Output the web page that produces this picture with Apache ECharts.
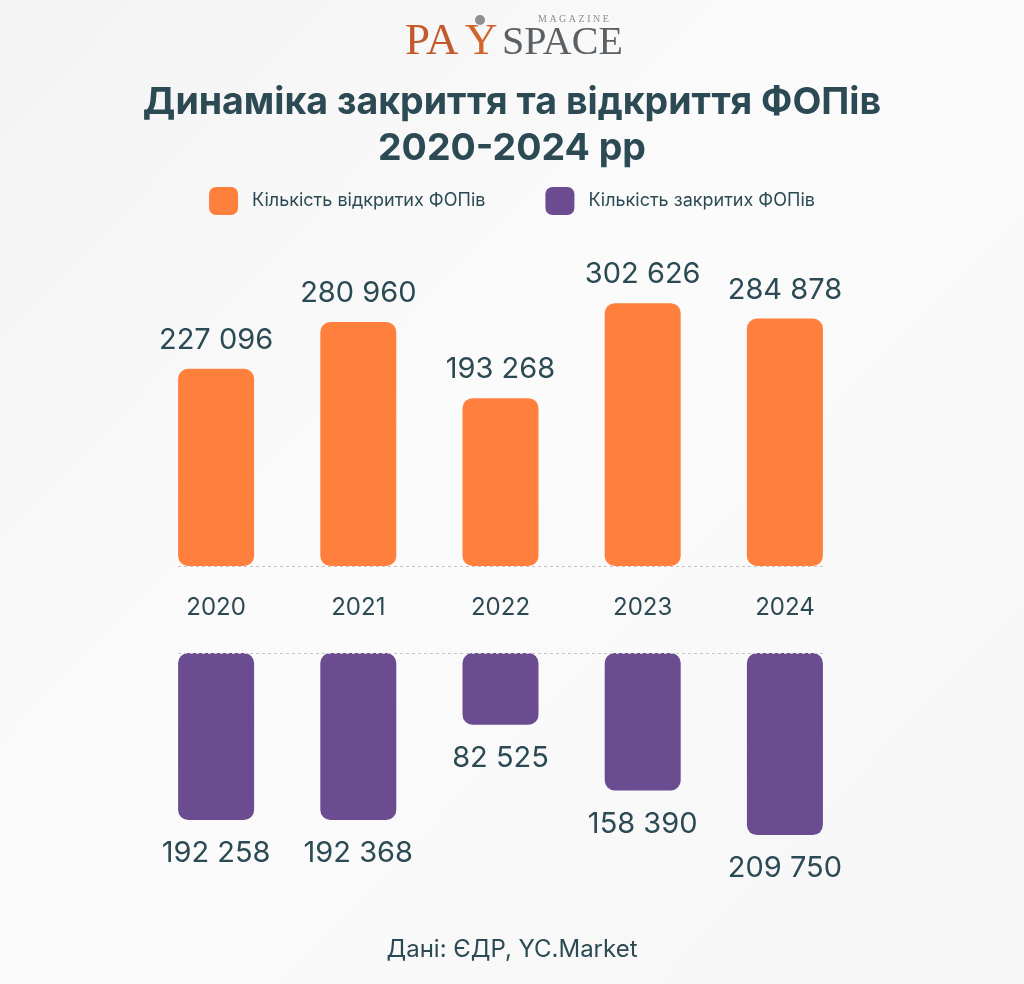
<!DOCTYPE html>
<html>
<head>
<meta charset="utf-8">
<script src="https://cdn.jsdelivr.net/npm/echarts@6/dist/echarts.min.js"></script>
<style>
    html, body { margin: 0; padding: 0; background: #f8f8f9; }
    #chart { width: 1024px; height: 984px; }
</style>
</head>
<body>
<div id="chart"></div>
<script>
const years = ['2020', '2021', '2022', '2023', '2024'];
const opened = [227096, 280960, 193268, 302626, 284878];
const closed = [192258, 192368, 82525, 158390, 209750];

const textColor = '#2c4a53';
const orange = '#fe803c';
const purple = '#6b4c91';

function fmt(v) {
    return String(v).replace(/\B(?=(\d{3})+(?!\d))/g, ' ');
}

// dotted base line, only under the bars
const baseLine = {
    silent: true,
    symbol: 'none',
    label: {show: false},
    lineStyle: {color: '#c4c4c4', type: [3, 3], width: 1},
    data: [[{x: 178, yAxis: 0}, {x: 824, yAxis: 0}]]
};

let chart = echarts.init(document.getElementById('chart'));
const option = {
    backgroundColor: {
        type: 'linear', x: 0, y: 0, x2: 1, y2: 1,
        colorStops: [
            {offset: 0, color: '#f3f3f4'},
            {offset: 0.45, color: '#fbfbfb'},
            {offset: 1, color: '#f6f6f7'}
        ]
    },
    textStyle: {fontFamily: 'Inter'},
    graphic: [
        {
            type: 'text', left: 405, top: 20,
            style: {text: 'PA', font: '45px "Liberation Serif"', fill: '#c25a2c'}
        },
        {
            type: 'text', left: 465, top: 20,
            style: {text: 'Y', font: '45px "Liberation Serif"', fill: '#d0662e'}
        },
        {
            type: 'circle', shape: {cx: 480, cy: 20, r: 5},
            style: {fill: '#8d9093'}
        },
        {
            type: 'text', left: 502, top: 23,
            style: {text: 'SPACE', font: '40px "Liberation Serif"', fill: '#5b6064'}
        },
        {
            type: 'text', left: 538, top: 14,
            style: {text: 'M A G A Z I N E', font: '10px "Liberation Serif"', fill: '#8a8d90'}
        }
    ],
    title: [
        {
            text: 'Динаміка закриття та відкриття ФОПів\n2020-2024 рр',
            left: 'center',
            top: 75,
            textStyle: {fontSize: 37.5, fontWeight: 'bold', lineHeight: 46, color: textColor, fontFamily: 'Inter'}
        },
        {
            text: 'Дані: ЄДР, YC.Market',
            left: 'center',
            top: 933,
            textStyle: {fontSize: 24, fontWeight: 'normal', color: textColor, fontFamily: 'Inter'}
        }
    ],
    legend: {
        top: 182,
        left: 'center',
        itemWidth: 29,
        itemHeight: 28,
        itemGap: 60,
        icon: 'roundRect',
        textStyle: {fontSize: 18, color: textColor, padding: [0, 0, 0, 9]},
        data: ['Кількість відкритих ФОПів', 'Кількість закритих ФОПів']
    },
    grid: [
        {left: 145, right: 168, top: 262, bottom: 418},
        {left: 145, right: 168, top: 653, bottom: 114}
    ],
    xAxis: [
        {
            type: 'category', gridIndex: 0, data: years,
            axisTick: {show: false},
            axisLine: {show: false},
            axisLabel: {margin: 30, fontSize: 24, color: textColor}
        },
        {
            type: 'category', gridIndex: 1, data: years, position: 'top',
            axisTick: {show: false},
            axisLabel: {show: false},
            axisLine: {show: false}
        }
    ],
    yAxis: [
        {type: 'value', gridIndex: 0, min: 0, max: 350000, show: false, splitLine: {show: false}},
        {type: 'value', gridIndex: 1, min: 0, max: 250000, inverse: true, show: false, splitLine: {show: false}}
    ],
    series: [
        {
            name: 'Кількість відкритих ФОПів',
            type: 'bar',
            xAxisIndex: 0,
            yAxisIndex: 0,
            barWidth: 76,
            data: opened,
            itemStyle: {color: orange, borderRadius: 10},
            label: {
                show: true, position: 'top', distance: 14,
                fontSize: 29, color: textColor,
                formatter: p => fmt(p.value)
            },
            markLine: baseLine
        },
        {
            name: 'Кількість закритих ФОПів',
            type: 'bar',
            xAxisIndex: 1,
            yAxisIndex: 1,
            barWidth: 76,
            data: closed,
            itemStyle: {color: purple, borderRadius: 10},
            label: {
                show: true, position: 'bottom', distance: 19,
                fontSize: 29, color: textColor,
                formatter: p => fmt(p.value)
            },
            markLine: baseLine
        }
    ]
};
chart.setOption(option);
window.addEventListener('resize', function () {
    chart.resize();
});
</script>
</body>
</html>
